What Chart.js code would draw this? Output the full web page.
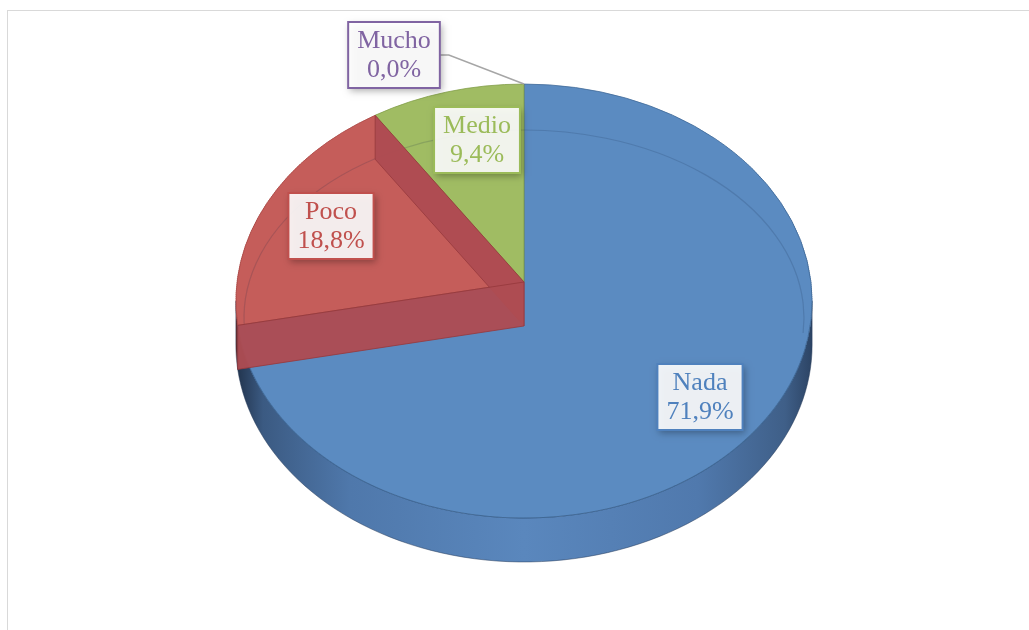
<!DOCTYPE html>
<html>
<head>
<meta charset="utf-8">
<script src="https://cdn.jsdelivr.net/npm/chart.js@4.4.0/dist/chart.umd.min.js"></script>
<style>
  body { margin: 0; background: #fff; overflow: hidden; }
  #frame { position: absolute; left: 7px; top: 10px; width: 1100px; height: 700px; border: 1px solid #d9d9d9; }
  #myChart { position: absolute; left: 0; top: 0; }
</style>
</head>
<body>
<div id="frame"></div>
<canvas id="myChart" width="1029" height="630"></canvas>
<script>
const categories = ['Nada', 'Poco', 'Medio', 'Mucho'];
const percentages = [71.9, 18.8, 9.4, 0.0];
const topColors = ['#5b8bc1', '#c55d5a', '#a0bc63', '#8064a2'];
const edgeColors = ['#3f6896', '#a84643', '#7f9c46', '#5f4a7e'];
const textColors = ['#4f81bd', '#c0504d', '#9bbb59', '#8064a2'];

// tilted disc seen in perspective: front half is drawn bigger than the back half
const persp = { cx: 524, cy: 282, A: 287, B: 215.3, k: 0.0876, depth: 44 };

// label box centres
const labelPos = [[700, 397], [331, 226], [477, 140], [394, 55]];

function project(u, v) {
    const s = 1 / (1 - persp.k * v);
    return [persp.cx + persp.A * u * s, persp.cy + persp.B * v * s];
}

function rimPoint(a) {
    return project(Math.cos(a), Math.sin(a));
}

// disc v coordinate under a screen row
function vAtY(y) {
    const d = y - persp.cy;
    return d / (persp.B + persp.k * d);
}

function fmtPct(v) {
    return v.toFixed(1).replace('.', ',') + '%';
}

// side wall between two angles of the front half
function wallPath(ctx, a0, a1) {
    const steps = 80;
    ctx.beginPath();
    for (let i = 0; i <= steps; i++) {
        const p = rimPoint(a0 + (a1 - a0) * i / steps);
        if (i === 0) ctx.moveTo(p[0], p[1]); else ctx.lineTo(p[0], p[1]);
    }
    for (let i = steps; i >= 0; i--) {
        const p = rimPoint(a0 + (a1 - a0) * i / steps);
        ctx.lineTo(p[0], p[1] + persp.depth);
    }
    ctx.closePath();
}

function wallFill(ctx, i) {
    const g = ctx.createLinearGradient(persp.cx - 290, 0, persp.cx + 290, 0);
    if (i === 0) {
        g.addColorStop(0, '#1f3048');
        g.addColorStop(0.05, '#3b5a82');
        g.addColorStop(0.2, '#4f78ab');
        g.addColorStop(0.5, '#5a87bd');
        g.addColorStop(0.8, '#5079ad');
        g.addColorStop(0.95, '#3f5f88');
        g.addColorStop(1, '#2b4262');
    } else {
        g.addColorStop(0, '#6e2b2a');
        g.addColorStop(1, edgeColors[i]);
    }
    return g;
}

// radial cut face of a slice at angle a
function radialFace(ctx, a) {
    const p = rimPoint(a);
    ctx.beginPath();
    ctx.moveTo(persp.cx, persp.cy);
    ctx.lineTo(p[0], p[1]);
    ctx.lineTo(p[0], p[1] + persp.depth);
    ctx.lineTo(persp.cx, persp.cy + persp.depth);
    ctx.closePath();
    ctx.fillStyle = 'rgba(174,76,82,0.96)';
    ctx.fill();
    ctx.strokeStyle = 'rgba(150,56,60,0.8)';
    ctx.lineWidth = 1;
    ctx.stroke();
}

const pie3d = {
    id: 'pie3d',
    beforeDatasetsDraw(chart) {
        const ctx = chart.ctx;
        const arcs = chart.getDatasetMeta(0).data;

        // front side walls, between the two silhouette points
        const side = Math.asin(persp.k);
        arcs.forEach((arc, i) => {
            const a0 = Math.max(arc.startAngle, side);
            const a1 = Math.min(arc.endAngle, Math.PI - side);
            if (a1 <= a0) return;
            wallPath(ctx, a0, a1);
            ctx.fillStyle = wallFill(ctx, i);
            ctx.fill();
            ctx.strokeStyle = 'rgba(40,60,90,0.5)';
            ctx.lineWidth = 1;
            ctx.stroke();
        });

        // top face: the arc elements drawn row band by row band, each band with its own scale
        const R = arcs[0].outerRadius, x0 = arcs[0].x, y0 = arcs[0].y;
        const yTop = Math.floor(project(0, -1)[1]) - 2;
        const yBot = Math.ceil(project(0, 1)[1]) + 2;
        for (let y = yTop; y < yBot; y += 2) {
            const ym = y + 1;
            const v = vAtY(ym);
            const s = 1 / (1 - persp.k * v);
            ctx.save();
            ctx.beginPath();
            ctx.rect(0, y, chart.width, 2);
            ctx.clip();
            ctx.translate(persp.cx, ym);
            ctx.scale(persp.A * s / R, persp.B * s * s / R);
            ctx.translate(-x0, -(y0 + R * v));
            arcs.forEach(arc => arc.draw(ctx));
            ctx.restore();
        }

        // faint bevel line on the top face
        ctx.save();
        ctx.beginPath();
        ctx.ellipse(persp.cx, 318, 280, 188, 0, Math.PI - 0.08, 2 * Math.PI + 0.08);
        ctx.strokeStyle = 'rgba(20,40,70,0.16)';
        ctx.lineWidth = 1.2;
        ctx.stroke();
        ctx.restore();

        // cut faces of the Poco slice
        radialFace(ctx, arcs[1].endAngle);
        radialFace(ctx, arcs[1].startAngle);

        return false;
    },
    afterDraw(chart) {
        const ctx = chart.ctx;
        const arcs = chart.getDatasetMeta(0).data;
        ctx.save();
        ctx.font = '26px "Liberation Serif", "Times New Roman", serif';
        ctx.textAlign = 'center';
        ctx.textBaseline = 'middle';
        categories.forEach((name, i) => {
            const lines = [name, fmtPct(percentages[i])];
            const w = Math.max(...lines.map(t => ctx.measureText(t).width)) + 18;
            const h = 66;
            const [cx, cy] = labelPos[i];
            const bx = cx - w / 2, by = cy - h / 2;

            // leader line for the empty slice
            if (percentages[i] === 0) {
                const p = rimPoint(arcs[i].startAngle);
                ctx.beginPath();
                ctx.moveTo(bx + w, cy);
                ctx.lineTo(bx + w + 9, cy);
                ctx.lineTo(p[0], p[1]);
                ctx.strokeStyle = '#a6a6a6';
                ctx.lineWidth = 1.5;
                ctx.stroke();
            }

            ctx.save();
            ctx.shadowColor = 'rgba(0,0,0,0.35)';
            ctx.shadowBlur = 7;
            ctx.shadowOffsetX = 2;
            ctx.shadowOffsetY = 3;
            ctx.fillStyle = 'rgba(255,255,255,0.9)';
            ctx.fillRect(bx, by, w, h);
            ctx.restore();

            ctx.strokeStyle = textColors[i];
            ctx.lineWidth = 2;
            ctx.strokeRect(bx, by, w, h);

            ctx.fillStyle = textColors[i];
            ctx.fillText(lines[0], cx, cy - 14);
            ctx.fillText(lines[1], cx, cy + 15);
        });
        ctx.restore();
    }
};

new Chart(document.getElementById('myChart').getContext('2d'), {
    type: 'pie',
    data: {
        labels: categories,
        datasets: [{
            data: percentages,
            backgroundColor: topColors,
            borderColor: edgeColors,
            borderWidth: [1, 1, 1, 0]
        }]
    },
    options: {
        responsive: false,
        animation: false,
        layout: { padding: 20 },
        plugins: {
            legend: { display: false },
            tooltip: { enabled: false }
        }
    },
    plugins: [pie3d]
});
</script>
</body>
</html>
